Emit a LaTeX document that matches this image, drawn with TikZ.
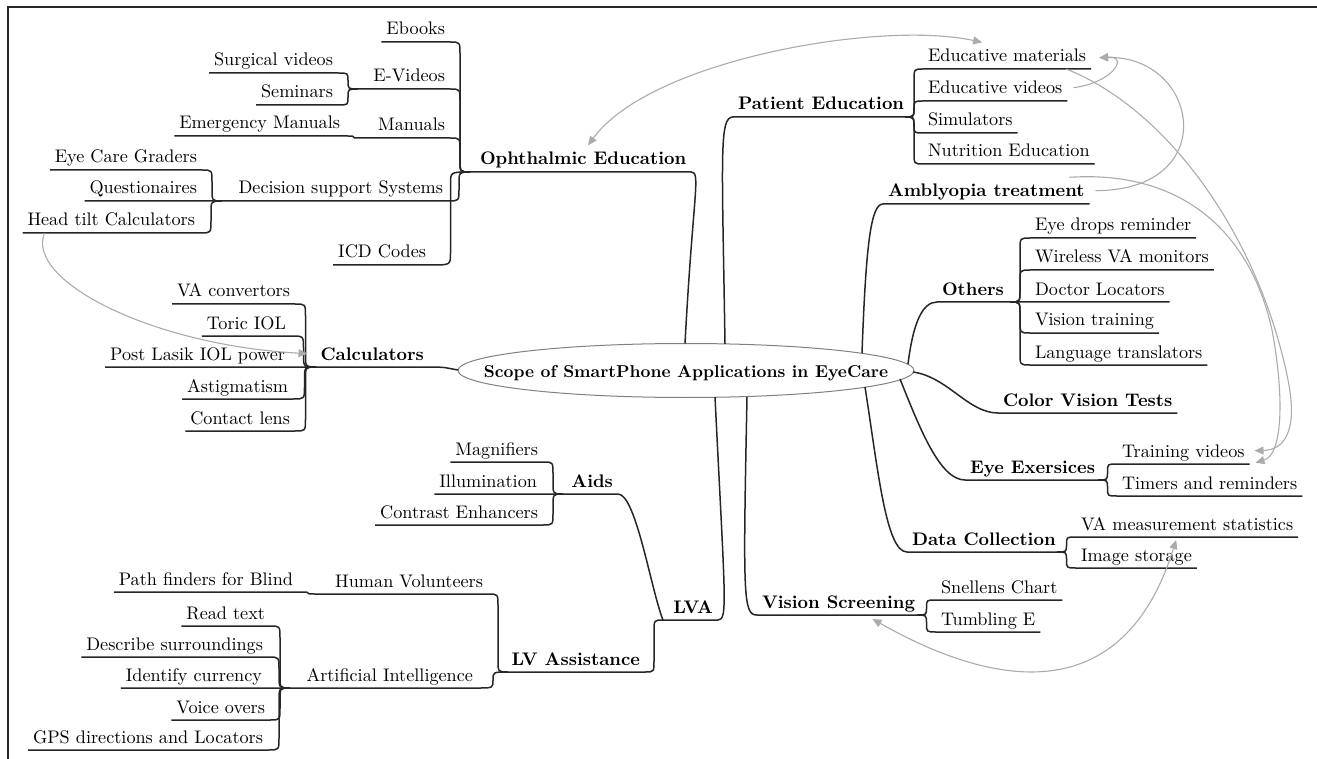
\documentclass[tikz,border=0pt]{standalone}
\usepackage{fontspec}
\setmainfont{lmroman10-regular}[Extension=.otf, BoldFont=lmroman10-bold, ItalicFont=lmroman10-italic]
\usetikzlibrary{arrows.meta,calc}
\definecolor{linkgray}{HTML}{ABABAB}
\definecolor{ink}{HTML}{262626}
\newcommand\fsz{\fontsize{18.2}{22}\selectfont}
\newcommand\rootfsz{\fontsize{17.2}{21}\selectfont}
\begin{document}
\begin{tikzpicture}[x=1pt,y=-1pt,
  lab/.style={inner xsep=5pt, inner ysep=7pt, text depth=0pt, outer sep=0pt, font=\fsz, text=black},
  blab/.style={lab, font=\fsz\bfseries},
  conn/.style={draw=ink, line width=1.5pt},
  xl/.style={draw=linkgray, line width=1.1pt, -{Triangle[length=9pt,width=8pt]}},
  xlb/.style={draw=linkgray, line width=1.1pt, {Triangle[length=9pt,width=8pt]}-{Triangle[length=9pt,width=8pt]}},
  brc/.style={to path={let \p1=(\tikztostart), \p2=(\tikztotarget),
      \n1={(\x1+\x2)/2}, \n2={min(max((\y2-\y1)/2,-12),12)} in
      .. controls (\n1,\y1) .. (\n1,\y1+\n2) -- (\n1,\y2-\n2)
      .. controls (\n1,\y2) .. (\p2)}}]
\useasboundingbox (0,0) rectangle (1317,759);
\draw[line width=1.2pt, ink] (8,759) -- (8,7) -- (1317,7);

% ---------- root ----------
\coordinate (rc) at (686,370.5);
\node[font=\rootfsz\bfseries, inner sep=0, anchor=base] (root) at (686,377) {Scope of SmartPhone Applications in EyeCare};
\draw[draw=gray, line width=1pt] (rc) ellipse [x radius=228pt, y radius=27pt];
\coordinate (r-oph) at (685,343.5);
\coordinate (r-pat) at (725,344);
\coordinate (r-amb) at (862,353);
\coordinate (r-oth) at (908,364);
\coordinate (r-col) at (913,372);
\coordinate (r-eye) at (900,379);
\coordinate (r-dat) at (865,387);
\coordinate (r-vis) at (747,397);
\coordinate (r-lva) at (715,397);
\coordinate (r-calc) at (458,370);

% ---------- Ophthalmic Education ----------
\coordinate (oph-j) at (470,172);
\node[blab,anchor=south west] (oph) at (475,172) {Ophthalmic Education};
\draw[conn] (oph-j) -- (oph.south west) -- (oph.south east) .. controls +(10,0) and +(8,-150) .. (r-oph);

\node[lab,anchor=south east] (ebooks) at (450,42) {Ebooks};
\draw[conn] (ebooks.south west) -- (ebooks.south east) to[brc] (oph-j);

\coordinate (evid-j) at (358,89);
\node[lab,anchor=south east] (evid) at (450,89) {E-Videos};
\draw[conn] (evid-j) -- (evid.south west) -- (evid.south east) to[brc] (oph-j);
\node[lab,anchor=south east] (surg) at (338,73) {Surgical videos};
\draw[conn] (surg.south west) -- (surg.south east) to[brc] (evid-j);
\node[lab,anchor=south east] (semi) at (338,105) {Seminars};
\draw[conn] (semi.south west) -- (semi.south east) to[brc] (evid-j);

\coordinate (man-j) at (362,138);
\node[lab,anchor=south east] (man) at (450,138) {Manuals};
\node[lab,anchor=south east] (emman) at (345,136) {Emergency Manuals};
\draw[conn] (emman.south west) -- (emman.south east) to[brc] (man-j) -- (man.south west) -- (man.south east) to[brc] (oph-j);

\coordinate (dss-j) at (222,201);
\node[lab,anchor=south east] (dss) at (448,201) {Decision support Systems};
\node[lab,anchor=south east] (quest) at (202,201) {Questionaires};
\draw[conn] (quest.south west) -- (quest.south east) -- (dss-j) -- (dss.south west) -- (dss.south east) to[brc] (oph-j);
\node[lab,anchor=south east] (ecg) at (202,170) {Eye Care Graders};
\draw[conn] (ecg.south west) -- (ecg.south east) to[brc] (dss-j);
\node[lab,anchor=south east] (ht) at (200,233) {Head tilt Calculators};
\draw[conn] (ht.south west) -- (ht.south east) to[brc] (dss-j);

\node[lab,anchor=south east] (icd) at (431,265) {ICD Codes};
\draw[conn] (icd.south west) -- (icd.south east) to[brc] (oph-j);

% ---------- Calculators ----------
\coordinate (calc-j) at (316,367);
\node[blab,anchor=south east] (calc) at (429,367) {Calculators};
\node[lab,anchor=south east] (lasik) at (290,367) {Post Lasik IOL power};
\draw[conn] (lasik.south west) -- (lasik.south east) -- (calc-j) -- (calc.south west) -- (calc.south east) .. controls +(18,0) and +(-12,-2) .. (r-calc);
\node[lab,anchor=south east] (vac) at (295,304) {VA convertors};
\draw[conn] (vac.south west) -- (vac.south east) to[brc] (calc-j);
\node[lab,anchor=south east] (toric) at (291,336) {Toric IOL};
\draw[conn] (toric.south west) -- (toric.south east) to[brc] (calc-j);
\node[lab,anchor=south east] (astig) at (293,399) {Astigmatism};
\draw[conn] (astig.south west) -- (astig.south east) to[brc] (calc-j);
\node[lab,anchor=south east] (clens) at (295,431) {Contact lens};
\draw[conn] (clens.south west) -- (clens.south east) to[brc] (calc-j);

% ---------- LVA ----------
\coordinate (lva-j) at (663,620);
\node[blab,anchor=south east] (lva) at (718,620) {LVA};
\draw[conn] (lva-j) -- (lva.south west) -- (lva.south east) .. controls +(10,0) and +(10,203) .. (r-lva);

\coordinate (aids-j) at (563,494);
\node[blab,anchor=south east] (aids) at (618,494) {Aids};
\node[lab,anchor=south east] (illum) at (542,494) {Illumination};
\draw[conn] (illum.south west) -- (illum.south east) -- (aids-j) -- (aids.south west) -- (aids.south east) .. controls +(18,0) and +(-12,-30) .. (lva-j);
\node[lab,anchor=south east] (magn) at (543,462) {Magnifiers};
\draw[conn] (magn.south west) -- (magn.south east) to[brc] (aids-j);
\node[lab,anchor=south east] (contr) at (543,525) {Contrast Enhancers};
\draw[conn] (contr.south west) -- (contr.south east) to[brc] (aids-j);

\coordinate (lvas-j) at (508,672);
\node[blab,anchor=south east] (lvas) at (645,672) {LV Assistance};
\draw[conn] (lvas-j) -- (lvas.south west) -- (lvas.south east) to[brc] (lva-j);

\coordinate (hv-j) at (318,594);
\node[lab,anchor=south east] (hv) at (488,594) {Human Volunteers};
\node[lab,anchor=south east] (pathf) at (298,592) {Path finders for Blind};
\draw[conn] (pathf.south west) -- (pathf.south east) to[brc] (hv-j) -- (hv.south west) -- (hv.south east) to[brc] (lvas-j);

\coordinate (ai-j) at (290,688);
\node[lab,anchor=south east] (ai) at (478,688) {Artificial Intelligence};
\node[lab,anchor=south east] (ident) at (267,688) {Identify currency};
\draw[conn] (ident.south west) -- (ident.south east) -- (ai-j) -- (ai.south west) -- (ai.south east) to[brc] (lvas-j);
\node[lab,anchor=south east] (readt) at (270,626) {Read text};
\draw[conn] (readt.south west) -- (readt.south east) to[brc] (ai-j);
\node[lab,anchor=south east] (descr) at (268,657) {Describe surroundings};
\draw[conn] (descr.south west) -- (descr.south east) to[brc] (ai-j);
\node[lab,anchor=south east] (voice) at (270,720) {Voice overs};
\draw[conn] (voice.south west) -- (voice.south east) to[brc] (ai-j);
\node[lab,anchor=south east] (gps) at (268,750) {GPS directions and Locators};
\draw[conn] (gps.south west) -- (gps.south east) to[brc] (ai-j);

% ---------- Patient Education ----------
\coordinate (pat-j) at (905,117);
\node[blab,anchor=south west] (pat) at (733,117) {Patient Education};
\draw[conn] (r-pat) .. controls +(-3,-190) and +(-14,0) .. (pat.south west) -- (pat.south east) -- (pat-j);
\node[lab,anchor=south west] (em) at (923,69) {Educative materials};
\draw[conn] (pat-j) to[brc] (em.south west) -- (em.south east);
\node[lab,anchor=south west] (ev) at (923,101) {Educative videos};
\draw[conn] (pat-j) to[brc] (ev.south west) -- (ev.south east);
\node[lab,anchor=south west] (sim) at (923,133) {Simulators};
\draw[conn] (pat-j) to[brc] (sim.south west) -- (sim.south east);
\node[lab,anchor=south west] (nut) at (923,164) {Nutrition Education};
\draw[conn] (pat-j) to[brc] (nut.south west) -- (nut.south east);

% ---------- Amblyopia ----------
\node[blab,anchor=south west] (amb) at (883,204) {Amblyopia treatment};
\draw[conn] (r-amb) .. controls +(4,-110) and +(-12,0) .. (amb.south west) -- (amb.south east);

% ---------- Others ----------
\coordinate (oth-j) at (1010,302);
\node[blab,anchor=south west] (oth) at (937,302) {Others};
\node[lab,anchor=south west] (docl) at (1030,302) {Doctor Locators};
\draw[conn] (r-oth) .. controls +(5,-40) and +(-15,0) .. (oth.south west) -- (oth.south east) -- (oth-j) -- (docl.south west) -- (docl.south east);
\node[lab,anchor=south west] (edr) at (1030,238) {Eye drops reminder};
\draw[conn] (oth-j) to[brc] (edr.south west) -- (edr.south east);
\node[lab,anchor=south west] (wva) at (1030,270) {Wireless VA monitors};
\draw[conn] (oth-j) to[brc] (wva.south west) -- (wva.south east);
\node[lab,anchor=south west] (vtr) at (1030,333) {Vision training};
\draw[conn] (oth-j) to[brc] (vtr.south west) -- (vtr.south east);
\node[lab,anchor=south west] (lang) at (1030,365) {Language translators};
\draw[conn] (oth-j) to[brc] (lang.south west) -- (lang.south east);

% ---------- Color Vision ----------
\node[blab,anchor=south west] (col) at (998,413) {Color Vision Tests};
\draw[conn] (r-col) .. controls +(35,5) and +(-30,0) .. (col.south west) -- (col.south east);

% ---------- Eye Exersices ----------
\coordinate (eye-j) at (1098,480);
\node[blab,anchor=south west] (eye) at (965,480) {Eye Exersices};
\draw[conn] (r-eye) .. controls +(20,50) and +(-25,0) .. (eye.south west) -- (eye.south east) -- (eye-j);
\node[lab,anchor=south west] (tv) at (1117,464) {Training videos};
\draw[conn] (eye-j) to[brc] (tv.south west) -- (tv.south east);
\node[lab,anchor=south west] (timr) at (1117,496) {Timers and reminders};
\draw[conn] (eye-j) to[brc] (timr.south west) -- (timr.south east);

% ---------- Data Collection ----------
\coordinate (dat-j) at (1057,552);
\node[blab,anchor=south west] (dat) at (907,552) {Data Collection};
\draw[conn] (r-dat) .. controls +(13,83) and +(-21,0) .. (dat.south west) -- (dat.south east) -- (dat-j);
\node[lab,anchor=south west] (vams) at (1076,537) {VA measurement statistics};
\draw[conn] (dat-j) to[brc] (vams.south west) -- (vams.south east);
\node[lab,anchor=south west] (imgs) at (1076,568) {Image storage};
\draw[conn] (dat-j) to[brc] (imgs.south west) -- (imgs.south east);

% ---------- Vision Screening ----------
\coordinate (vis-j) at (917,615);
\node[blab,anchor=south west] (vis) at (757,615) {Vision Screening};
\draw[conn] (r-vis) .. controls +(-4,200) and +(-14,0) .. (vis.south west) -- (vis.south east) -- (vis-j);
\node[lab,anchor=south west] (snel) at (936,600) {Snellens Chart};
\draw[conn] (vis-j) to[brc] (snel.south west) -- (snel.south east);
\node[lab,anchor=south west] (tumb) at (936,632) {Tumbling E};
\draw[conn] (vis-j) to[brc] (tumb.south west) -- (tumb.south east);

% ---------- cross links ----------
\draw[xlb] ([xshift=5pt]oph.north) .. controls (650,60) and (880,20) .. ([xshift=-25pt]em.north);
\draw[xl] ([xshift=6pt]ev.east) .. controls +(40,-5) and +(30,-2) .. ([xshift=8pt,yshift=-2pt]em.east);
\draw[xl] ([xshift=6pt]amb.east) .. controls +(127,0) and +(100,-2) .. ([xshift=8pt,yshift=-2pt]em.east);
\draw[xl] ([xshift=-25pt]em.south east) .. controls (1170,110) and (1260,240) .. (1288,380)
          .. controls (1298,430) and (1285,450) .. ([xshift=5pt]tv.east);
\draw[xl] ([xshift=-20pt]amb.north east) .. controls (1180,170) and (1250,230) .. (1272,330)
          .. controls (1285,400) and (1282,455) .. ([xshift=6pt,yshift=-12pt]tv.east);
\draw[xl] ([xshift=22pt]ht.south west) .. controls (25,280) and (150,345) .. ([xshift=-8pt]calc.west);
\draw[xlb] ([xshift=34pt,yshift=-4pt]vis.south) .. controls (980,680) and (1120,720) .. ([xshift=-11pt,yshift=-3pt]vams.south);
\end{tikzpicture}
\end{document}
